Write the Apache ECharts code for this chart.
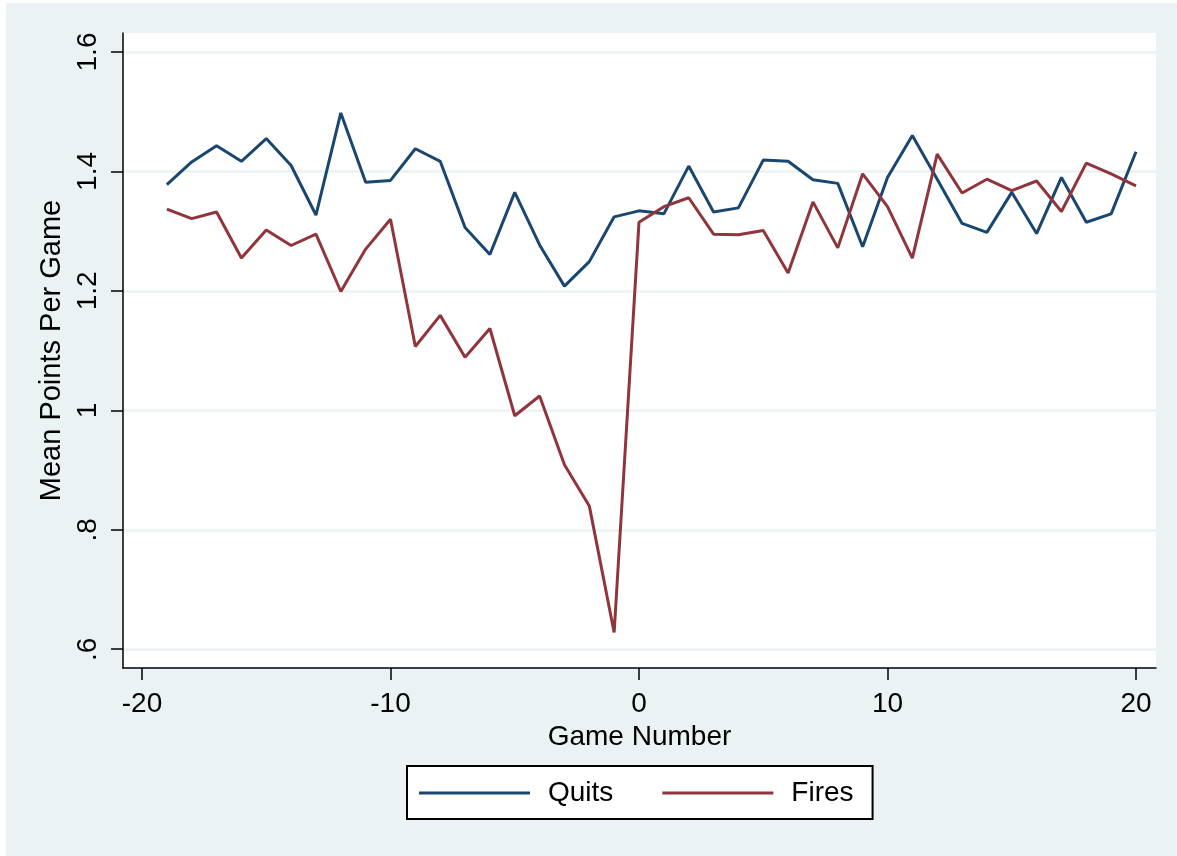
<!DOCTYPE html>
<html>
<head>
<meta charset="utf-8">
<script src="https://cdn.jsdelivr.net/npm/echarts@6/dist/echarts.min.js"></script>
<style>
    html, body { margin: 0; padding: 0; background: #fff; }
    #chart { position: absolute; left: 6px; top: 3px; width: 1171px; height: 853px; }
</style>
</head>
<body>
<div id="chart"></div>
<script>
// game numbers relative to the coaching change
var games = [-19, -18, -17, -16, -15, -14, -13, -12, -11, -10, -9, -8, -7, -6, -5, -4, -3, -2, -1,
    0, 1, 2, 3, 4, 5, 6, 7, 8, 9, 10, 11, 12, 13, 14, 15, 16, 17, 18, 19, 20];

var quits = [1.378, 1.416, 1.443, 1.417, 1.455, 1.410, 1.327, 1.498, 1.382, 1.385,
    1.438, 1.417, 1.306, 1.261, 1.365, 1.277, 1.208, 1.249, 1.324,
    1.334, 1.329, 1.409, 1.332, 1.339, 1.419, 1.417, 1.386, 1.380, 1.274, 1.390,
    1.460, 1.387, 1.313, 1.298, 1.365, 1.296, 1.390, 1.315, 1.329, 1.433];

var fires = [1.337, 1.321, 1.332, 1.255, 1.302, 1.276, 1.295, 1.199, 1.270, 1.320,
    1.107, 1.159, 1.089, 1.137, 0.991, 1.024, 0.909, 0.840, 0.628,
    1.315, 1.341, 1.356, 1.295, 1.294, 1.301, 1.230, 1.349, 1.272, 1.396, 1.341,
    1.255, 1.429, 1.364, 1.387, 1.368, 1.384, 1.333, 1.414, 1.396, 1.376];

var xTicks = [-20, -10, 0, 10, 20];
var yTicks = [0.6, 0.8, 1, 1.2, 1.4, 1.6];
var yTickLabels = ['.6', '.8', '1', '1.2', '1.4', '1.6'];

var font = 'Liberation Sans, Arial, Helvetica, sans-serif';

function pairs(vals) {
    return games.map(function (g, i) { return [g, vals[i]]; });
}

var chart = echarts.init(document.getElementById('chart'));
chart.setOption({
    backgroundColor: '#eaf2f3',
    animation: false,
    grid: {
        left: 117,
        right: 21,
        top: 30,
        bottom: 188,
        show: true,
        backgroundColor: '#fff',
        borderWidth: 0
    },
    legend: {
        left: 401,
        top: 763,
        padding: [13, 19, 12, 12],
        icon: 'rect',
        itemWidth: 111,
        itemHeight: 3,
        itemGap: 49,
        backgroundColor: '#fff',
        borderColor: '#000',
        borderWidth: 2,
        textStyle: { fontFamily: font, fontSize: 28, color: '#000', padding: [0, 0, 0, 13] },
        data: ['Quits', 'Fires']
    },
    xAxis: {
        type: 'value',
        min: -20.765,
        max: 20.805,
        name: 'Game Number',
        nameLocation: 'middle',
        nameGap: 47,
        nameTextStyle: { fontFamily: font, fontSize: 28, color: '#000' },
        axisLine: { show: true, onZero: false, lineStyle: { color: '#000', width: 1.5 } },
        axisTick: { show: true, length: 12, customValues: xTicks, lineStyle: { color: '#000', width: 1.5 } },
        axisLabel: { customValues: xTicks, margin: 22, fontFamily: font, fontSize: 28, color: '#000' },
        splitLine: { show: false }
    },
    yAxis: {
        type: 'value',
        min: 0.5686,
        max: 1.6318,
        name: 'Mean Points Per Game',
        nameLocation: 'middle',
        nameRotate: 90,
        nameGap: 53,
        nameTextStyle: { fontFamily: font, fontSize: 29, color: '#000' },
        axisLine: { show: true, onZero: false, lineStyle: { color: '#000', width: 1.5 } },
        axisTick: { show: true, length: 12, customValues: yTicks, lineStyle: { color: '#000', width: 1.5 } },
        axisLabel: {
            customValues: yTicks,
            rotate: 90,
            margin: 21,
            fontFamily: font,
            fontSize: 28,
            color: '#000',
            formatter: function (v) {
                var i = yTicks.findIndex(function (t) { return Math.abs(t - v) < 1e-6; });
                return i >= 0 ? yTickLabels[i] : '';
            }
        },
        splitLine: { show: true, lineStyle: { color: '#eaf2f3', width: 2.5 } }
    },
    series: [{
        name: 'Quits',
        type: 'line',
        symbol: 'none',
        data: pairs(quits),
        lineStyle: { color: '#1a476f', width: 3 },
        itemStyle: { color: '#1a476f' }
    }, {
        name: 'Fires',
        type: 'line',
        symbol: 'none',
        data: pairs(fires),
        lineStyle: { color: '#90353b', width: 3 },
        itemStyle: { color: '#90353b' }
    }]
});
</script>
</body>
</html>
